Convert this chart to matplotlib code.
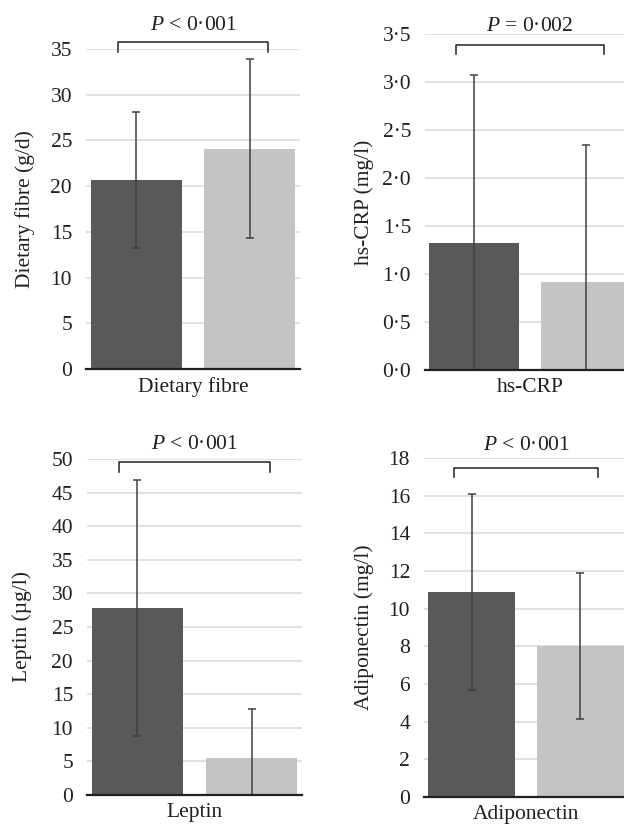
import matplotlib
matplotlib.use("Agg")
import matplotlib.pyplot as plt
import numpy as np

plt.rcParams['font.family'] = ['Liberation Serif', 'DejaVu Serif']
plt.rcParams['mathtext.fontset'] = 'custom'
plt.rcParams['mathtext.rm'] = 'Liberation Serif'
plt.rcParams['mathtext.it'] = 'Liberation Serif:italic'

# Data: [dark group, light group]
categories = ["Dietary fibre", "hs-CRP", "Leptin", "Adiponectin"]
ylabels = ["Dietary fibre (g/d)", "hs-CRP (mg/l)", "Leptin (\u00b5g/l)", "Adiponectin (mg/l)"]
fibre_mean = [20.7, 24.1]
fibre_sd = [7.45, 9.8]
crp_mean = [1.32, 0.92]
crp_sd = [1.75, 1.42]
leptin_mean = [27.8, 5.5]
leptin_sd = [19.05, 7.3]
adipo_mean = [10.9, 8.0]
adipo_sd = [5.2, 3.88]
p_texts = ["$P$ < 0\u00b7001", "$P$ = 0\u00b7002", "$P$ < 0\u00b7001", "$P$ < 0\u00b7001"]
yticks_list = [
    [0, 5, 10, 15, 20, 25, 30, 35],
    [0.0, 0.5, 1.0, 1.5, 2.0, 2.5, 3.0, 3.5],
    [0, 5, 10, 15, 20, 25, 30, 35, 40, 45, 50],
    [0, 2, 4, 6, 8, 10, 12, 14, 16, 18],
]
ytick_labels = [
    ["0", "5", "10", "15", "20", "25", "30", "35"],
    ["0\u00b70", "0\u00b75", "1\u00b70", "1\u00b75", "2\u00b70", "2\u00b75", "3\u00b70", "3\u00b75"],
    ["0", "5", "10", "15", "20", "25", "30", "35", "40", "45", "50"],
    ["0", "2", "4", "6", "8", "10", "12", "14", "16", "18"],
]
means = [fibre_mean, crp_mean, leptin_mean, adipo_mean]
sds = [fibre_sd, crp_sd, leptin_sd, adipo_sd]

W, H = 624, 825
fig = plt.figure(figsize=(W / 100, H / 100), dpi=100)

# axes boxes in pixels: left, right, top, bottom
boxes = [
    (86, 300, 49, 369),
    (425, 635, 34, 370),
    (87, 302, 459, 795),
    (424, 628, 458, 797),
]
# bracket & text positions (axes fraction)
bracket_y = [(1.022, 0.991, 1.075), (0.967, 0.940, 1.021), (0.991, 0.961, 1.042), (0.971, 0.944, 1.038)]
ylabel_x = [25, 364, 22, 364]

colors = ["#58595B", "#C3C4C6"]
FS = 15.5

for i in range(4):
    l, r, t, b = boxes[i]
    ax = fig.add_axes([l / W, (H - b) / H, (r - l) / W, (b - t) / H])
    x = np.arange(2)
    ax.bar(x, means[i], width=0.8, color=colors, zorder=2)
    ax.errorbar(x, means[i], yerr=sds[i], fmt='none', ecolor='#404040',
                elinewidth=1.1, capsize=3, capthick=1.1, zorder=3)
    ax.set_xlim(-0.44, 1.44)
    ax.set_ylim(yticks_list[i][0], yticks_list[i][-1])
    ax.set_yticks(yticks_list[i])
    ax.set_yticklabels(ytick_labels[i])
    ax.set_xticks([0.5])
    ax.set_xticklabels([categories[i]])
    ax.tick_params(axis='y', length=0, pad=10, labelsize=FS, colors='#231F20')
    ax.tick_params(axis='x', length=0, pad=6, labelsize=FS, colors='#231F20')
    ax.grid(axis='y', color='#D9D9D9', linewidth=1.1, zorder=0)
    ax.set_axisbelow(True)
    for s in ['top', 'right', 'left']:
        ax.spines[s].set_visible(False)
    ax.spines['bottom'].set_linewidth(1.6)
    ax.spines['bottom'].set_color('#231F20')
    ax.spines['bottom'].set_zorder(4)

    # y label
    ax.set_ylabel(ylabels[i], fontsize=FS, color='#231F20', va='center')
    ax.yaxis.set_label_coords((ylabel_x[i] - l) / (r - l), 0.5)

    # significance bracket
    trans = matplotlib.transforms.blended_transform_factory(ax.transData, ax.transAxes)
    yt, yb, ytext = bracket_y[i]
    ax.plot([-0.16, -0.16, 1.16, 1.16], [yb, yt, yt, yb], color='#231F20',
            linewidth=1.1, transform=trans, clip_on=False)
    ax.text(0.5, ytext, p_texts[i], transform=trans, ha='center', va='center',
            fontsize=FS, color='#231F20')

fig.savefig("out.png", dpi=100)
